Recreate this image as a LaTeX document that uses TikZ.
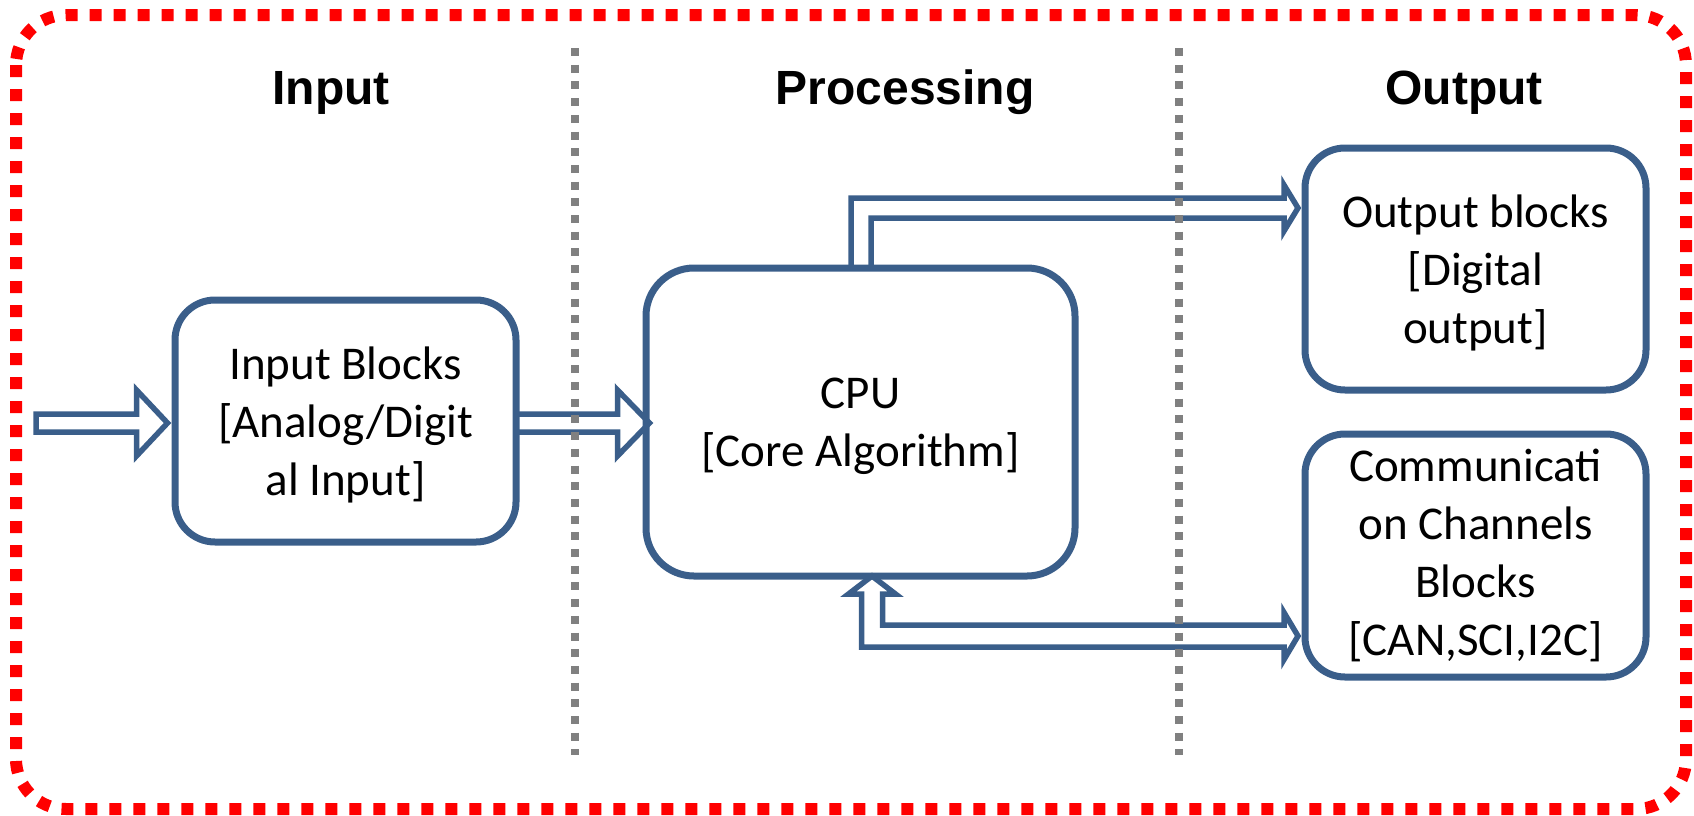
\documentclass[tikz,border=0pt]{standalone}
\usepackage{fontspec}
\setmainfont{Carlito}
\newfontfamily\headfont{Liberation Sans}
\usetikzlibrary{calc}
\definecolor{boxblue}{RGB}{58,94,138}
\definecolor{dotgray}{RGB}{128,128,128}
\pgfdeclarelayer{bg}
\pgfsetlayers{bg,main}
\begin{document}
\begin{tikzpicture}[x=0.5pt,y=-0.5pt,
  blockbox/.style={draw=boxblue, line width=3.5pt, rounded corners=20pt, inner sep=0pt, align=center, font=\fontsize{23.5}{29}\selectfont},
  barrow/.style={draw=boxblue, line width=2.75pt, fill=white, miter limit=10, line join=miter},
  sepline/.style={draw=dotgray, line width=4pt, dash pattern=on 4pt off 4.35pt},
  heading/.style={font=\headfont\bfseries\fontsize{24}{29}\selectfont, anchor=base},
  frame/.style={draw=red, line width=6pt, dash pattern=on 6pt off 6pt, rounded corners=25pt}]
\useasboundingbox (0,0) rectangle (1694,815);
\draw[frame] (16,15) rectangle (1686,809);

% headings
\node[heading] (hin) at (331,104) {Input};
\node[heading] (hproc) at (905,104) {Processing};
\node[heading] (hout) at (1464,104) {Output};

% boxes
\node[blockbox, text depth=0pt, minimum width=170.5pt, minimum height=121pt] (inp) at (345.5,421) {Input Blocks\\{[}Analog/Digit\\al Input{]}};
\node[blockbox, text depth=0pt, rounded corners=24pt, minimum width=214.5pt, minimum height=154pt] (cpu) at (860.5,422) {CPU\\{[}Core Algorithm{]}};
\node[blockbox, text depth=0pt, minimum width=170.5pt, minimum height=121pt] (out) at (1475.5,269) {Output blocks\\{[}Digital\\output{]}};
\node[blockbox, minimum width=170.5pt, minimum height=121.5pt] (comm) at (1475.5,555.5) {Communicati\\on Channels\\Blocks\\{[}CAN,SCI,I2C{]}};

% separators
\coordinate (s1a) at (575,48);
\coordinate (s1b) at (575,755);
\coordinate (s2a) at (1179,48);
\coordinate (s2b) at (1179,755);

\begin{pgfonlayer}{bg}
% input arrow
\coordinate (src) at (36,423);
\coordinate (t1) at ($(inp.west|-src)+(-4,0)$);
\draw[barrow] ($(src)+(0,-9)$) -- ($(t1)+(-31,-9)$) -- ($(t1)+(-31,-33)$) -- (t1) -- ($(t1)+(-31,33)$) -- ($(t1)+(-31,9)$) -- ($(src)+(0,9)$) -- cycle;
% input -> cpu
\coordinate (m0) at ($(inp.east)+(-3.5,2)$);
\coordinate (t2) at ($(cpu.west|-m0)+(7,0)$);
\draw[barrow] ($(m0)+(0,-9)$) -- ($(t2)+(-32,-9)$) -- ($(t2)+(-32,-33)$) -- (t2) -- ($(t2)+(-32,33)$) -- ($(t2)+(-32,9)$) -- ($(m0)+(0,9)$) -- cycle;
% cpu -> output
\coordinate (a0) at ($(cpu.north)+(0.5,3.5)$);
\coordinate (a1) at ($(a0)+(0,-60)$);
\coordinate (t3) at ($(out.west|-a1)+(-3.5,0)$);
\draw[barrow] ($(a0)+(-10,0)$) -- ($(a1)+(-10,-10)$) -- ($(t3)+(-14,-10)$) -- ($(t3)+(-14,-23)$) -- (t3) -- ($(t3)+(-14,23)$) -- ($(t3)+(-14,10)$) -- ($(a1)+(10,10)$) -- ($(a0)+(10,0)$) -- cycle;
% cpu <-> comm
\coordinate (b0) at ($(cpu.south)+(11.5,-3.5)$);
\coordinate (b1) at ($(b0)+(0,60)$);
\coordinate (t4) at ($(comm.west|-b1)+(-3.5,0)$);
\draw[barrow] (b0) -- ($(b0)+(23.5,18)$) -- ($(b0)+(10.5,18)$) -- ($(b1)+(10.5,-11)$) -- ($(t4)+(-14,-11)$) -- ($(t4)+(-14,-23.5)$) -- (t4) -- ($(t4)+(-14,23.5)$) -- ($(t4)+(-14,11)$) -- ($(b1)+(-10.5,11)$) -- ($(b0)+(-10.5,18)$) -- ($(b0)+(-23.5,18)$) -- cycle;
\end{pgfonlayer}

\draw[sepline] (s1a) -- (s1b);
\draw[sepline] (s2a) -- (s2b);
\end{tikzpicture}
\end{document}
